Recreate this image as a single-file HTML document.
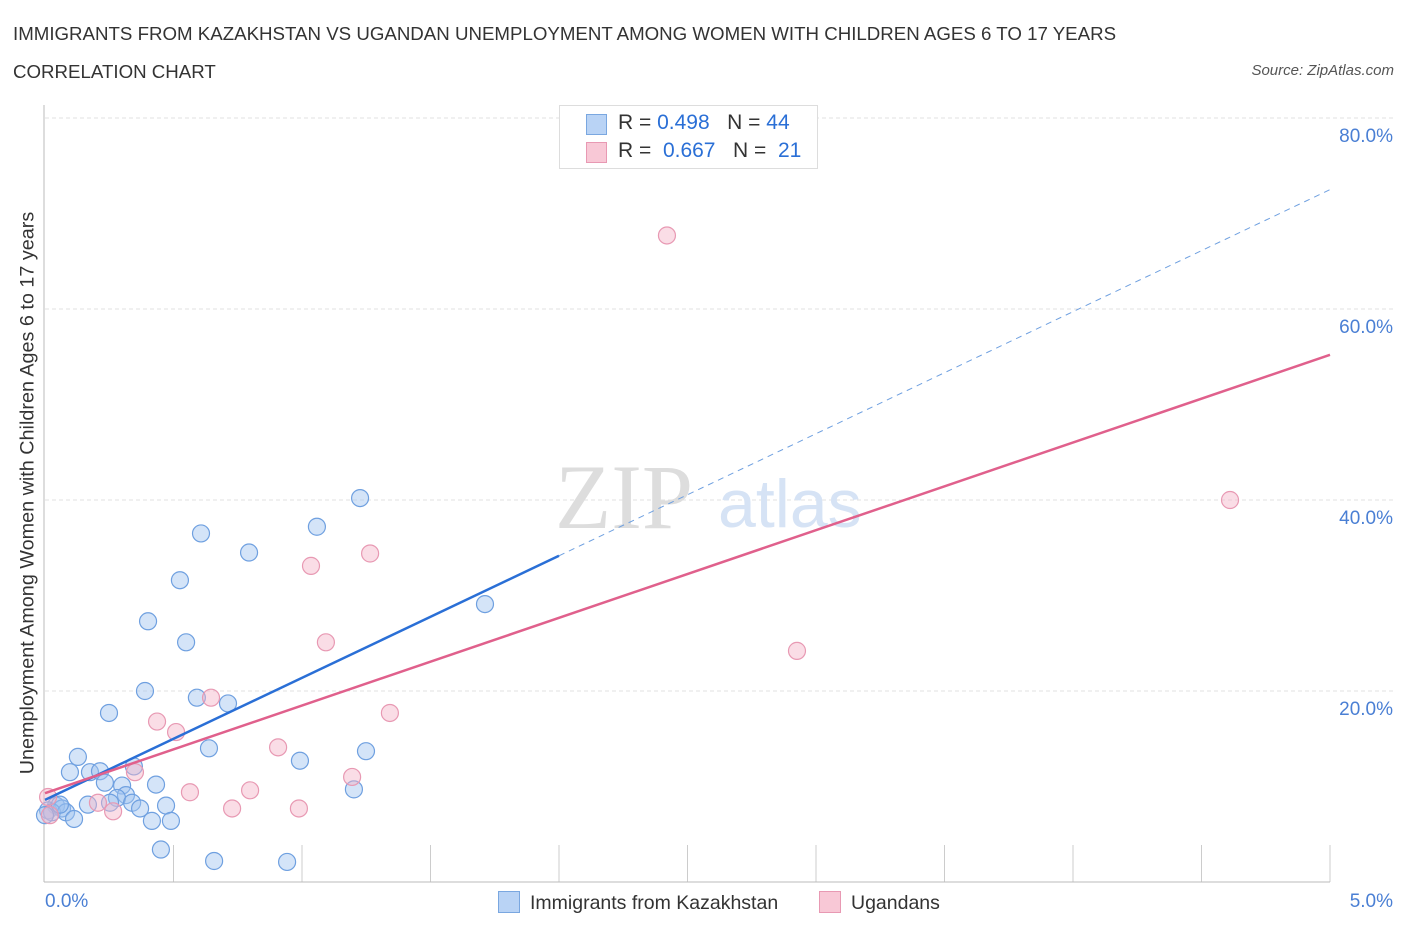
<!DOCTYPE html>
<html><head><meta charset="utf-8">
<style>
body{margin:0;background:#fff;font-family:"Liberation Sans",sans-serif;}
#wrap{position:relative;width:1406px;height:930px;overflow:hidden;}
.t{position:absolute;white-space:nowrap;}
</style></head><body>
<div id="wrap">
<div class="t" style="left:13px;top:23px;font-size:18.7px;color:#333;">IMMIGRANTS FROM KAZAKHSTAN VS UGANDAN UNEMPLOYMENT AMONG WOMEN WITH CHILDREN AGES 6 TO 17 YEARS</div>
<div class="t" style="left:13px;top:61px;font-size:18.7px;color:#333;">CORRELATION CHART</div>
<div class="t" style="right:12px;top:62px;font-size:15px;color:#555;font-style:italic;">Source: ZipAtlas.com</div>
<svg id="svg" width="1406" height="930" style="position:absolute;left:0;top:0"></svg>
</div>
<script>
const blueX=[1.226,1.058,0.607,0.794,0.525,0.401,1.712,0.549,0.389,0.591,0.712,0.249,0.638,1.249,0.128,0.992,0.097,0.175,0.214,0.346,0.233,0.300,0.432,1.202,0.315,0.280,0.253,0.339,0.043,0.471,0.370,0.012,0.066,0.167,0.027,0.082,0.416,0.490,0.113,0.451,0.658,0.942,0.058,0.0];
const blueY=[40.2,37.2,36.5,34.5,31.6,27.3,29.1,25.1,20.0,19.3,18.7,17.7,14.0,13.7,13.1,12.7,11.5,11.5,11.6,12.1,10.4,10.1,10.2,9.7,9.1,8.8,8.3,8.3,8.0,8.0,7.7,7.5,7.7,8.1,7.3,7.3,6.4,6.4,6.6,3.4,2.2,2.1,8.1,7.0];
const pinkX=[2.420,4.611,1.265,1.035,1.093,2.926,1.342,0.646,0.436,0.510,0.907,0.350,1.195,0.798,0.564,0.206,0.265,0.728,0.988,0.012,0.019];
const pinkY=[67.7,40.0,34.4,33.1,25.1,24.2,17.7,19.3,16.8,15.7,14.1,11.5,11.0,9.6,9.4,8.3,7.4,7.7,7.7,8.9,7.0];
const blueTrend=[8.6,72.5]; const blueSolidEnd=2.0;
const pinkTrend=[9.3,55.2];
const yTicks=[20,40,60,80];
const yTickLabels=["20.0%","40.0%","60.0%","80.0%"];
const xTicks=[0,0.5,1,1.5,2,2.5,3,3.5,4,4.5,5];

const X=v=>45+v*257, Y=v=>882-v*9.55;
const svg=document.getElementById('svg'),NS='http://www.w3.org/2000/svg';
function mk(tag,a,parent){const e=document.createElementNS(NS,tag);for(const k in a)e.setAttribute(k,a[k]);(parent||svg).appendChild(e);return e;}
yTicks.forEach((t,i)=>{
  const g=mk('line',{x1:45,x2:1395,y1:Y(t),y2:Y(t),stroke:'#e2e2e2','stroke-dasharray':'4,3'});
  
  
  const l=mk('text',{x:1393,y:Y(t)+24,'text-anchor':'end','font-size':19,fill:'#4a7fd4','font-family':'Liberation Sans'});
  l.textContent=yTickLabels[i];
  
  
});
xTicks.forEach((t,i)=>{
  if(i===0)return;
  const l=mk('line',{x1:X(t),x2:X(t),y1:845,y2:882,stroke:'#ccc'});
  
  
});
const ax=mk('line',{x1:44,x2:44,y1:105,y2:882,stroke:'#bbb'});


const bx=mk('line',{x1:44,x2:1330,y1:882,y2:882,stroke:'#bbb'});


const w1=mk('text',{x:555,y:528,'font-size':92,fill:'#ddd','font-family':'Liberation Serif'});w1.textContent='ZIP';


const w2=mk('text',{x:718,y:527,'font-size':68,fill:'#d6e3f5','font-family':'Liberation Sans'});w2.textContent='atlas';


function pts(xs,ys,fill,stroke,name){xs.forEach((x,i)=>{const c=mk('circle',{cx:X(x),cy:Y(ys[i]),r:8.5,fill:fill,stroke:stroke,'stroke-width':1.2});
  
  });}
pts(blueX,blueY,'rgba(160,196,240,0.45)','#6fa0e0','point-kazakhstan');
pts(pinkX,pinkY,'rgba(245,180,200,0.45)','#e899b3','point-ugandan');
const by=x=>blueTrend[0]+(blueTrend[1]-blueTrend[0])*x/5;
const bl=mk('line',{x1:X(0),y1:Y(by(0)),x2:X(blueSolidEnd),y2:Y(by(blueSolidEnd)),stroke:'#2a6fd6','stroke-width':2.5});


const bd=mk('line',{x1:X(blueSolidEnd),y1:Y(by(blueSolidEnd)),x2:X(5),y2:Y(by(5)),stroke:'#6fa0e0','stroke-width':1,'stroke-dasharray':'6,5'});


const pl=mk('line',{x1:X(0),y1:Y(pinkTrend[0]),x2:X(5),y2:Y(pinkTrend[1]),stroke:'#e0608c','stroke-width':2.5});


</script>
<div class="t" style="left:28px;top:493px;transform:translate(-50%,-50%) rotate(-90deg);font-size:19.8px;color:#333;">Unemployment Among Women with Children Ages 6 to 17 years</div>
<div class="t" style="left:45px;top:891px;font-size:19px;color:#4a7fd4;">0.0%</div>
<div class="t" style="right:13px;top:891px;font-size:19px;color:#4a7fd4;">5.0%</div>
<div style="position:absolute;left:559px;top:105px;width:257px;height:62px;border:1px solid #ddd;background:#fff;font-size:21px;color:#333;">
 <div style="position:absolute;left:26px;top:8px;width:19px;height:19px;background:#b9d3f5;border:1px solid #7aa7e0"></div>
 <div class="t" style="left:58px;top:5px;">R = <span style="color:#2a6fd6">0.498</span>&nbsp;&nbsp;&nbsp;N = <span style="color:#2a6fd6">44</span></div>
 <div style="position:absolute;left:26px;top:36px;width:19px;height:19px;background:#f8c8d6;border:1px solid #e899b3"></div>
 <div class="t" style="left:58px;top:33px;">R = &nbsp;<span style="color:#2a6fd6">0.667</span>&nbsp;&nbsp;&nbsp;N = &nbsp;<span style="color:#2a6fd6">21</span></div>
</div>
<div style="position:absolute;left:498px;top:891px;font-size:19.5px;color:#333;">
 <span style="display:inline-block;width:20px;height:20px;background:#b9d3f5;border:1px solid #7aa7e0;vertical-align:-4px;margin-right:10px"></span>Immigrants from Kazakhstan</div>
<div style="position:absolute;left:819px;top:891px;font-size:19.5px;color:#333;">
 <span style="display:inline-block;width:20px;height:20px;background:#f8c8d6;border:1px solid #e899b3;vertical-align:-4px;margin-right:10px"></span>Ugandans</div>
</body></html>
